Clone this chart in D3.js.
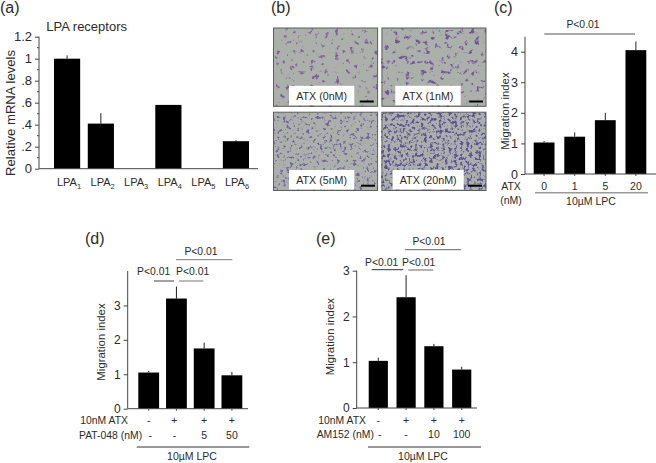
<!DOCTYPE html>
<html><head><meta charset="utf-8">
<script src="https://cdnjs.cloudflare.com/ajax/libs/d3/7.8.5/d3.min.js"></script>
<style>
html,body{margin:0;padding:0;background:#fff}
svg{display:block}
text{font-family:"Liberation Sans",Arial,sans-serif;fill:#2b2b2b}
</style></head><body>
<svg id="c" width="656" height="463"></svg>
<script>
// Panel (a)
const aCategories = ["1","2","3","4","5","6"];
const aValues = [1.0, 0.41, null, 0.58, null, 0.25];
const aErrTops = [1.03, 0.505, null, 0.58, null, 0.26];
const aTicks = [0,0.2,0.4,0.6,0.8,1,1.2];
const aTickLabels = ["0",".2",".4",".6",".8","1","1.2"];
const aMinorTicks = [0.1,0.3,0.5,0.7,0.9,1.1];
// Panel (b)
const bLabels = ["ATX (0nM)","ATX (1nM)","ATX (5nM)","ATX (20nM)"];
// Panel (c)
const cCategories = ["0","1","5","20"];
const cValues = [1.03, 1.22, 1.76, 4.05];
const cErrTops = [1.08, 1.36, 2.0, 4.33];
// Panel (d)
const dAtx = ["-","+","+","+"];
const dDose = ["-","-","5","50"];
const dValues = [1.05, 3.2, 1.75, 0.97];
const dErrTops = [1.1, 3.55, 1.92, 1.07];
// Panel (e)
const eAtx = ["-","+","+","+"];
const eDose = ["-","-","10","100"];
const eValues = [1.03, 2.42, 1.35, 0.84];
const eErrTops = [1.1, 2.9, 1.4, 0.9];
const pText = "P<0.01";
const lpcText = "10\u00b5M LPC";

const svg = d3.select("#c");
const txt = (x,y,s,size,anchor="start",fill=null)=>{
  const t = svg.append("text").attr("x",x).attr("y",y).attr("font-size",size).attr("text-anchor",anchor).text(s);
  if(fill) t.style("fill",fill);
  return t;
};
const line = (x1,x2,y,col="#444",w=1)=>svg.append("line").attr("x1",x1).attr("x2",x2).attr("y1",y).attr("y2",y).attr("stroke",col).attr("stroke-width",w);

function barPanel(o){
  const n = o.values.length;
  const x = d3.scaleBand().domain(d3.range(n)).range(o.xRange).paddingInner(o.padIn).paddingOuter(0);
  const y = d3.scaleLinear().domain([0,o.yMax]).range([o.y0,o.yTop]);
  const g = svg.append("g");
  g.selectAll("line.err").data(o.values.map((v,i)=>({v,i,t:o.errTops[i]})).filter(d=>d.v!=null)).join("line")
    .attr("x1",d=>x(d.i)+x.bandwidth()/2).attr("x2",d=>x(d.i)+x.bandwidth()/2)
    .attr("y1",d=>y(d.v)).attr("y2",d=>y(d.t)).attr("stroke","#222").attr("stroke-width",1);
  g.selectAll("rect").data(o.values.map((v,i)=>({v,i})).filter(d=>d.v!=null)).join("rect")
    .attr("x",d=>x(d.i)).attr("width",x.bandwidth())
    .attr("y",d=>y(d.v)).attr("height",d=>y(0)-y(d.v)).attr("fill","#000");
  const ax = d3.axisLeft(y).tickValues(o.ticks).tickSize(4).tickPadding(3);
  if(o.tickLabels) ax.tickFormat((d,i)=>o.tickLabels[i]); else ax.tickFormat(d3.format("d"));
  const ya = svg.append("g").attr("transform",`translate(${o.axisX},0)`).call(ax);
  ya.select(".domain").attr("stroke","#444").attr("d",`M0,${o.yTop}V${o.y0}`);
  ya.selectAll(".tick line").attr("stroke","#444");
  ya.selectAll(".tick text").attr("font-size",o.tickSize).style("font-family",'"Liberation Sans",Arial,sans-serif');
  if(o.minor){
    svg.append("g").selectAll("line").data(o.minor).join("line")
      .attr("x1",o.axisX-2).attr("x2",o.axisX).attr("y1",d=>y(d)).attr("y2",d=>y(d)).attr("stroke","#444");
  }
  const xa = d3.axisBottom(x).tickSize(o.xTick?2:0).tickFormat("");
  const xg = svg.append("g").attr("transform",`translate(0,${o.y0})`).call(xa);
  xg.select(".domain").attr("stroke","#444").attr("d",`M${o.axisX},0H${o.xEnd}`);
  xg.selectAll(".tick line").attr("stroke","#444");
  svg.append("text").attr("transform",`translate(${o.titleX},${o.titleY}) rotate(-90)`)
    .attr("text-anchor","middle").attr("font-size",o.titleSize).text(o.title);
  return {x,y};
}

// ---------- (a)
txt(0,13,"(a)",16);
txt(46.3,30.5,"LPA receptors",13);
const pa = barPanel({values:aValues,errTops:aErrTops,xRange:[54,249],padIn:0.225,y0:168.7,yTop:36.7,yMax:1.2,
  ticks:aTicks,tickLabels:aTickLabels,minor:aMinorTicks,tickSize:13,axisX:39,xEnd:258,
  title:"Relative mRNA levels",titleX:14.5,titleY:113,titleSize:13.1});
const la = d3.scalePoint().domain(aCategories).range([69,237]);
aCategories.forEach(c=>{
  const t = txt(la(c),186,"LPA",11,"middle");
  t.append("tspan").attr("font-size",7.5).attr("dy",2.5).text(c);
});

// ---------- (b)
txt(271,13,"(b)",16);
const defs = svg.append("defs");
const tex = [
 {id:"t0",f:0.2,oct:3,seed:3,th:0.615,k:6,c:[0.50,0.36,0.60]},
 {id:"t1",f:0.2,oct:3,seed:11,th:0.60,k:6,c:[0.45,0.32,0.60]},
 {id:"t2",f:0.3,oct:2,seed:7,th:0.56,k:6,c:[0.44,0.38,0.64]},
 {id:"t3",f:0.33,oct:2,seed:19,th:0.50,k:6,c:[0.36,0.32,0.60]}
];
tex.forEach(t=>{
  const f = defs.append("filter").attr("id",t.id).attr("x",0).attr("y",0).attr("width",1).attr("height",1)
    .attr("color-interpolation-filters","sRGB");
  f.append("feTurbulence").attr("type","fractalNoise").attr("baseFrequency",t.f).attr("numOctaves",t.oct).attr("seed",t.seed).attr("result","n");
  f.append("feColorMatrix").attr("in","n").attr("type","matrix")
    .attr("values",`0 0 0 0 ${t.c[0]} 0 0 0 0 ${t.c[1]} 0 0 0 0 ${t.c[2]} ${t.k} 0 0 0 ${-t.k*t.th}`).attr("result","m");
  f.append("feGaussianBlur").attr("in","m").attr("stdDeviation",0.4);
});
const bx = d3.scaleBand().domain([0,1]).range([273.5,486]).paddingInner(0.04);
const by = d3.scaleBand().domain([0,1]).range([28,190.5]).paddingInner(0.07);
const labelBox = [[289,354.3],[395.3,460.7],[289,354.3],[392.7,463.7]];
const scaleBar = [[359.7,373.7],[469.3,483],[361,375],[468,482]];
bLabels.forEach((l,i)=>{
  const px = bx(i%2), py = by(i>>1), w=bx.bandwidth(), h=by.bandwidth();
  svg.append("rect").attr("x",px).attr("y",py).attr("width",w).attr("height",h).attr("fill","#abb0aa");
  svg.append("rect").attr("x",px).attr("y",py).attr("width",w).attr("height",h).attr("filter",`url(#t${i})`);
  svg.append("rect").attr("x",px).attr("y",py).attr("width",w).attr("height",h).attr("fill","none").attr("stroke","#5d5f5d").attr("stroke-width",1);
  const b = labelBox[i];
  svg.append("rect").attr("x",b[0]).attr("y",py+h-20.5).attr("width",b[1]-b[0]).attr("height",19.5).attr("fill","#fff");
  txt((b[0]+b[1])/2,py+h-6.5,l,10.7,"middle");
  line(scaleBar[i][0],scaleBar[i][1],py+h-4.8,"#000",2);
});

// ---------- (c)
txt(494,13,"(c)",16);
const pc = barPanel({values:cValues,errTops:cErrTops,xRange:[533.7,646.3],padIn:0.32,y0:174,yTop:36.7,yMax:4.49,
  ticks:[0,1,2,3,4],tickSize:12.5,axisX:525,xEnd:656,xTick:true,
  title:"Migration index",titleX:509,titleY:111,titleSize:11.4});
txt(583,28,pText,10.4,"middle");
line(544.3,635,34,"#555");
txt(511,190,"ATX",10.5,"middle");
txt(511,204,"(nM)",10.5,"middle");
cCategories.forEach((c,i)=>txt(pc.x(i)+pc.x.bandwidth()/2,190,c,10.5,"middle"));
line(535,648,192.7,"#999",1.6);
txt(591,205,lpcText,10.5,"middle");

// ---------- rows + brackets for (d), (e)
function rows(o,p,atx,dose){
  txt(o.atxEnd,424,"10nM ATX",10.4,"end");
  txt(o.doseStart,o.doseY,o.doseLabel,10.4);
  atx.forEach((c,i)=>txt(p.x(i)+p.x.bandwidth()/2+o.shift[i],424,c,10.5,"middle"));
  dose.forEach((c,i)=>txt(p.x(i)+p.x.bandwidth()/2+o.shift[i]+(i==0?1.5:0),o.doseY,c,10.5,"middle"));
  line(o.lineA,o.lineB,447,"#333");
  txt(o.lpc,460,lpcText,10.5,"middle");
  o.brackets.forEach(b=>{ txt(b.tx,b.ty,pText,10.4,"middle"); line(b.a,b.b,b.y,b.col); });
}
// (d)
txt(85,244,"(d)",16);
const pd = barPanel({values:dValues,errTops:dErrTops,xRange:[138.3,242.3],padIn:0.25,y0:408.7,yTop:271,yMax:4.0,
  ticks:[0,1,2,3],tickSize:12,axisX:127.7,xEnd:248,xTick:true,
  title:"Migration index",titleX:104.7,titleY:342,titleSize:11.4});
rows({atxEnd:128,doseStart:79,doseY:439,doseLabel:"PAT-048 (nM) ",shift:[0,-2,-0,0],lineA:136.7,lineB:249.3,lpc:192,
  brackets:[{tx:153.7,ty:275,a:154,b:174,y:281,col:"#444"},{tx:192.7,ty:275,a:179,b:203.3,y:281,col:"#777"},{tx:201,ty:255,a:176,b:232.3,y:259.7,col:"#777"}]},pd,dAtx,dDose);
// (e)
txt(316,244,"(e)",16);
const pe = barPanel({values:eValues,errTops:eErrTops,xRange:[368.7,471.3],padIn:0.31,y0:408,yTop:270.7,yMax:3,
  ticks:[0,1,2,3],tickSize:12,axisX:356.7,xEnd:477,xTick:true,
  title:"Migration index",titleX:334,titleY:336.7,titleSize:11.4});
rows({atxEnd:366,doseStart:316.7,doseY:438,doseLabel:"AM152 (nM) ",shift:[0,0,0,0],lineA:368,lineB:481,lpc:423,
  brackets:[{tx:381.7,ty:265.7,a:371.7,b:403.3,y:269.7,col:"#333"},{tx:418.7,ty:265.7,a:408.3,b:433.3,y:270,col:"#666"},{tx:429,ty:245,a:405,b:461,y:249.7,col:"#666"}]},pe,eAtx,eDose);
</script>
</body></html>
